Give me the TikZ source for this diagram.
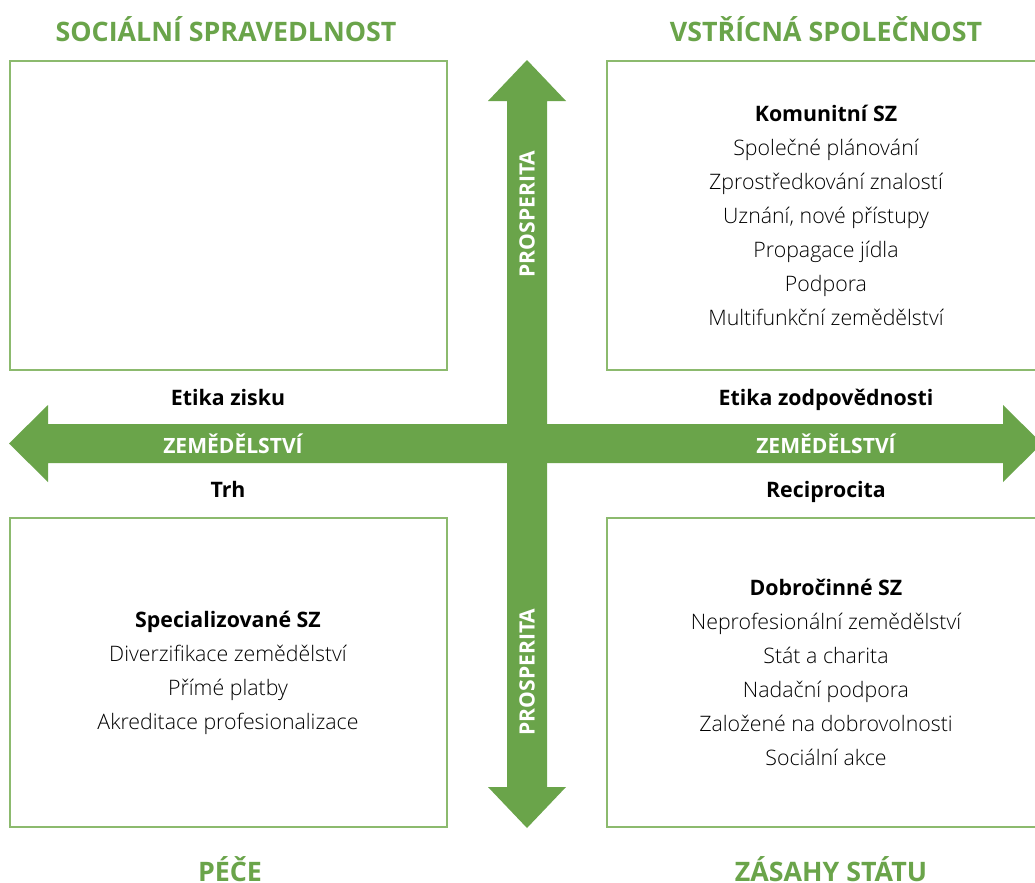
\documentclass[tikz,border=0pt]{standalone}
\usepackage{fontspec}
\setmainfont{Open Sans}
\newfontfamily\lightfont{Open Sans Light}
\definecolor{grn}{HTML}{6AA44A}
\definecolor{boxg}{HTML}{8CBA6E}
\begin{document}
\begin{tikzpicture}[x=0.75pt,y=-0.75pt,
  title/.style={text=grn,font=\fontsize{20.1}{22}\selectfont\bfseries},
  lbl/.style={text=black,font=\fontsize{16}{18}\selectfont\bfseries},
  arrlbl/.style={text=white,font=\fontsize{15.8}{17}\selectfont\bfseries},
  body/.style={align=center,font=\fontsize{16}{25.5}\selectfont\lightfont,text=black},
  quad/.style={draw=boxg,line width=1.1pt}]
\useasboundingbox (0,0) rectangle (1035,882);
\clip (0,0) rectangle (1035,882);
\fill[white] (0,0) rectangle (1035,882);
% boxes
\draw[quad] (10,61) rectangle (447,370);
\draw[quad] (607,61) rectangle (1050,370);
\draw[quad] (10,518) rectangle (447,827);
\draw[quad] (607,518) rectangle (1050,827);
% arrows
\fill[grn] (9,443.5) -- (48,405) -- (48,424) -- (1003,424) -- (1003,405) -- (1042,443.5)
  -- (1003,482) -- (1003,463) -- (48,463) -- (48,482) -- cycle;
\fill[grn] (527,60) -- (566,101) -- (547,101) -- (547,787) -- (566,787) -- (527,828)
  -- (488,787) -- (507,787) -- (507,101) -- (488,101) -- cycle;
% titles
\node[title] (t1) at (226,29) {SOCIÁLNÍ SPRAVEDLNOST};
\node[title] (t2) at (826,29) {VSTŘÍCNÁ SPOLEČNOST};
\node[title,anchor=base] (t3) at (230,881) {PÉČE};
\node[title,anchor=base] (t4) at (831,881) {ZÁSAHY STÁTU};
% arrow labels
\node[arrlbl] (z1) at (233,443.5) {ZEMĚDĚLSTVÍ};
\node[arrlbl] (z2) at (826,443.5) {ZEMĚDĚLSTVÍ};
\node[arrlbl,rotate=90] (p1) at (527,214) {PROSPERITA};
\node[arrlbl,rotate=90] (p2) at (527,672) {PROSPERITA};
% side labels
\node[lbl,anchor=base] (e1) at (228,405) {Etika zisku};
\node[lbl,anchor=base] (e2) at (228,497) {Trh};
\node[lbl,anchor=base] (e3) at (826,405) {Etika zodpovědnosti};
\node[lbl,anchor=base] (e4) at (826,497) {Reciprocita};
% box contents
\node[body] (b1) at (826,215.5) {{\normalfont\bfseries Komunitní SZ}\\Společné plánování\\Zprostředkování znalostí\\Uznání, nové přístupy\\Propagace jídla\\Podpora\\Multifunkční zemědělství};
\node[body] (b2) at (228,673) {{\normalfont\bfseries Specializované SZ}\\Diverzifikace zemědělství\\Přímé platby\\Akreditace profesionalizace};
\node[body] (b3) at (826,672.5) {{\normalfont\bfseries Dobročinné SZ}\\Neprofesionální zemědělství\\Stát a charita\\Nadační podpora\\Založené na dobrovolnosti\\Sociální akce};
\end{tikzpicture}
\end{document}
